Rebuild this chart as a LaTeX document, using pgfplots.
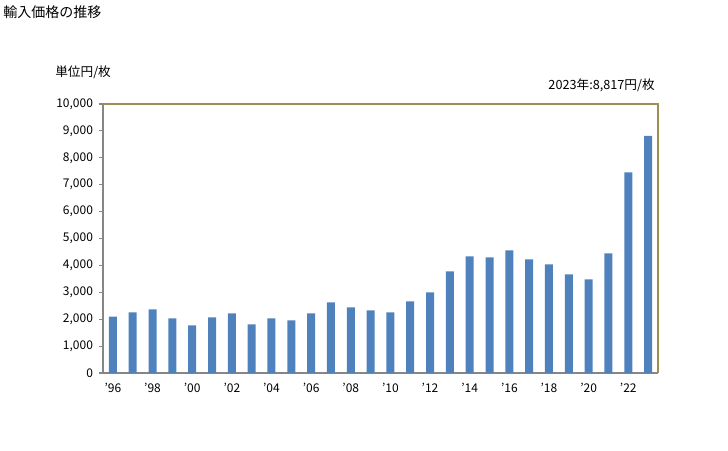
\documentclass[border=0pt]{standalone}
\usepackage{fontspec}
\setmainfont{Noto Sans CJK JP}
\usepackage{pgfplots}
\pgfplotsset{compat=1.18}
\definecolor{barblue}{HTML}{4F81BD}
\definecolor{frameol}{HTML}{9C8F50}
\definecolor{axgray}{HTML}{868686}
\pgfplotstableread{
x val
0 2100
1 2250
2 2365
3 2030
4 1770
5 2070
6 2215
7 1805
8 2030
9 1955
10 2215
11 2625
12 2440
13 2330
14 2255
15 2660
16 2995
17 3775
18 4335
19 4300
20 4560
21 4225
22 4040
23 3665
24 3480
25 4445
26 7455
27 8817
}\datatable
\begin{document}
\begin{tikzpicture}
\path[use as bounding box] (0pt,0pt) rectangle (546pt,337.5pt);
\node[anchor=west,inner sep=0pt,font=\fontsize{10.5}{12}\selectfont] at (2.25pt,328.5pt) {輸入価格の推移};
\node[anchor=west,inner sep=0pt,font=\fontsize{9.5}{11}\selectfont] at (41.25pt,283.5pt) {単位円/枚};
\node[anchor=east,inner sep=0pt,font=\fontsize{9.5}{11}\selectfont] at (491.25pt,273.75pt) {2023年:8,817円/枚};
\begin{axis}[
  at={(77.25pt,57.75pt)}, anchor=south west,
  scale only axis, width=416.25pt, height=201.75pt,
  xmin=-0.5, xmax=27.5, ymin=0, ymax=10000,
  axis lines*=left,
  axis line style={axgray, line width=0.8pt},
  ytick={0,1000,...,10000},
  xtick={0,2,...,26},
  xticklabels={'96,'98,'00,'02,'04,'06,'08,'10,'12,'14,'16,'18,'20,'22},
  scaled y ticks=false,
  /pgf/number format/.cd, 1000 sep={,}, assume math mode=true,
  /pgfplots/.cd,
  tick label style={font=\fontsize{9}{10}\selectfont},
  xtick style={draw=none},
  ytick style={axgray, line width=0.8pt},
  tick align=outside,
  major tick length=3pt,
  yticklabel style={xshift=-1pt},
  xticklabel style={yshift=-1pt},
  clip=false,
]
\addplot[ybar, bar width=6pt, fill=barblue, draw=none] table[x=x,y=val] {\datatable};
\draw[frameol, line width=0.8pt] (rel axis cs:0,1) -- (rel axis cs:1,1) -- (rel axis cs:1,0);
\end{axis}
\end{tikzpicture}
\end{document}
